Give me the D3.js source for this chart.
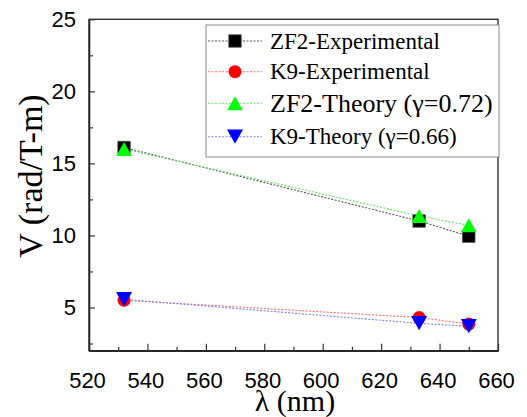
<!DOCTYPE html>
<html>
<head>
<meta charset="utf-8">
<script src="https://cdn.jsdelivr.net/npm/d3@7"></script>
<style>
  body { margin: 0; background: #fff; }
  svg { display: block; }
</style>
</head>
<body>
<svg id="chart" width="527" height="417"></svg>
<script>
// wavelengths (nm) and Verdet constants (rad/T-m)
const wavelengths = [532, 633, 650];
const zf2Exp = [16.1, 11.0, 9.95];
const k9Exp = [5.5, 4.3, 3.85];
const zf2Theory = [16.0, 11.35, 10.7];
const k9Theory = [5.56, 3.9, 3.7];

const xTicks = [520, 540, 560, 580, 600, 620, 640, 660];
const xMinor = [530, 550, 570, 590, 610, 630, 650];
const yTicks = [5, 10, 15, 20, 25];
const yMinor = [2.5, 7.5, 12.5, 17.5, 22.5];

const seriesNames = ["ZF2-Experimental", "K9-Experimental", "ZF2-Theory (\u03b3=0.72)", "K9-Theory (\u03b3=0.66)"];

const svg = d3.select("#chart");
const plotLeft = 89, plotRight = 498, plotTop = 19.3, plotBottom = 350.7;

const x = d3.scaleLinear().domain([520, 660]).range([plotLeft, plotRight]);
const y = d3.scaleLinear().domain([2, 25]).range([plotBottom, plotTop]);

// marker shapes, centred on their box
const shapes = {
  square: "M-6.2,-6.2H6.2V6.2H-6.2Z",
  circle: d3.symbol(d3.symbolCircle, 133)(),
  up: "M0,-7L7.8,7H-7.8Z",
  down: "M0,7L8,-7.3H-8Z"
};

const series = [
  { name: seriesNames[0], values: zf2Exp, color: "#000", line: "#555", shape: "square", stroke: "#444", font: 23 },
  { name: seriesNames[1], values: k9Exp, color: "#ff0000", line: "#ff7070", shape: "circle", stroke: "none", font: 23 },
  { name: seriesNames[2], values: zf2Theory, color: "#00ff00", line: "#66dd66", shape: "up", stroke: "none", font: 26 },
  { name: seriesNames[3], values: k9Theory, color: "#0000ff", line: "#8080ff", shape: "down", stroke: "none", font: 23 }
];

// frame
svg.append("rect")
  .attr("x", plotLeft).attr("y", plotTop)
  .attr("width", plotRight - plotLeft).attr("height", plotBottom - plotTop)
  .attr("fill", "none").attr("stroke", "#222").attr("stroke-width", 1.3);

// x axis (ticks point inward)
const xAxis = svg.append("g")
  .attr("transform", `translate(0,${plotBottom})`)
  .call(d3.axisBottom(x).tickValues(xTicks).tickSize(-7).tickSizeOuter(0).tickFormat(d3.format("d")));
xAxis.selectAll("text")
  .attr("dy", null).attr("y", 37).attr("x", -2)
  .style("font-family", "Liberation Sans, Arial, sans-serif")
  .style("font-size", "22px").attr("fill", "#000");
svg.append("g")
  .attr("transform", `translate(0,${plotBottom})`)
  .call(d3.axisBottom(x).tickValues(xMinor).tickSize(-4).tickSizeOuter(0).tickFormat(""));

// y axis
const yAxis = svg.append("g")
  .attr("transform", `translate(${plotLeft},0)`)
  .call(d3.axisLeft(y).tickValues(yTicks).tickSize(-6).tickSizeOuter(0).tickPadding(13));
yAxis.selectAll("text")
  .style("font-family", "Liberation Sans, Arial, sans-serif")
  .style("font-size", "22px").attr("fill", "#000");
svg.append("g")
  .attr("transform", `translate(${plotLeft},0)`)
  .call(d3.axisLeft(y).tickValues(yMinor).tickSize(-4).tickSizeOuter(0).tickFormat(""));

svg.selectAll(".domain").attr("stroke", "#222").attr("stroke-width", 1.3);
svg.selectAll(".tick line").attr("stroke", "#333").attr("stroke-width", 1.2);

// axis titles
svg.append("text")
  .attr("transform", "translate(42,176) rotate(-90)")
  .attr("text-anchor", "middle")
  .style("font-family", "Liberation Serif, Times New Roman, serif")
  .style("font-size", "34px").attr("fill", "#000")
  .text("V (rad/T-m)");

svg.append("text")
  .attr("x", 295).attr("y", 411)
  .attr("text-anchor", "middle")
  .style("font-family", "Liberation Serif, Times New Roman, serif")
  .style("font-size", "30px").attr("fill", "#000")
  .text("\u03bb (nm)");

// connecting lines
const line = d3.line().x((d, i) => x(wavelengths[i])).y(d => y(d));
series.forEach(s => {
  svg.append("path")
    .datum(s.values)
    .attr("d", line)
    .attr("fill", "none")
    .attr("stroke", s.line)
    .attr("stroke-width", 1.1)
    .attr("stroke-dasharray", "2,1.5");
});

// markers
series.forEach(s => {
  svg.append("g").selectAll("path")
    .data(s.values)
    .join("path")
    .attr("d", shapes[s.shape])
    .attr("transform", (d, i) => `translate(${x(wavelengths[i])},${y(d)})`)
    .attr("fill", s.color)
    .attr("stroke", s.stroke)
    .attr("stroke-width", 0.8);
});

// legend
const legend = svg.append("g");
legend.append("rect")
  .attr("x", 206).attr("y", 25).attr("width", 293).attr("height", 132)
  .attr("fill", "#fff").attr("stroke", "#888").attr("stroke-width", 1);

const rowY = [41, 71.7, 103.3, 136.7];
series.forEach((s, i) => {
  const g = legend.append("g").attr("transform", `translate(0,${rowY[i]})`);
  g.append("line")
    .attr("x1", 208).attr("x2", 262)
    .attr("stroke", s.line).attr("stroke-width", 1.1)
    .attr("stroke-dasharray", "2,1.5");
  g.append("path")
    .attr("d", shapes[s.shape])
    .attr("transform", "translate(235,0)")
    .attr("fill", s.color)
    .attr("stroke", s.stroke).attr("stroke-width", 0.8);
  g.append("text")
    .attr("x", 270).attr("dy", "0.33em")
    .style("font-family", "Liberation Serif, Times New Roman, serif")
    .style("font-size", s.font + "px").attr("fill", "#000")
    .text(s.name);
});
</script>
</body>
</html>
